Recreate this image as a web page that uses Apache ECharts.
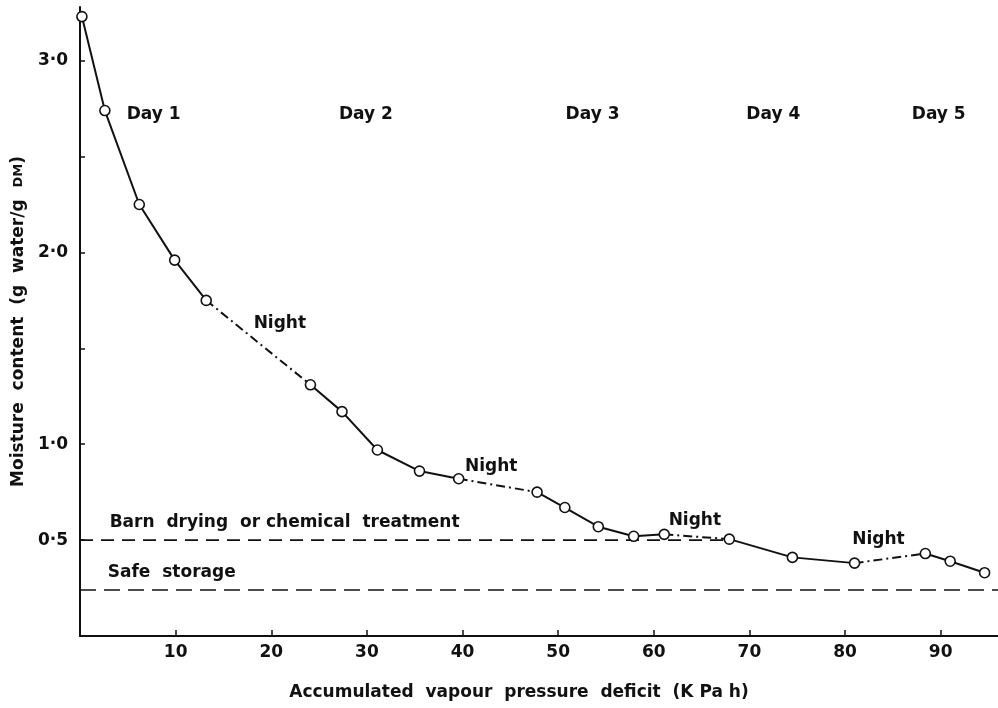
<!DOCTYPE html>
<html>
<head>
<meta charset="utf-8">
<script src="https://cdn.jsdelivr.net/npm/echarts@6/dist/echarts.min.js"></script>
<style>
  html, body { margin: 0; padding: 0; background: #fff; }
  #chart { width: 998px; height: 708px; }
</style>
</head>
<body>
<div id="chart"></div>
<script>
// ---- data ----
const vpd = [0.2, 2.6, 6.2, 9.9, 13.2, 24.1, 27.4, 31.1, 35.5, 39.6, 47.8, 50.7, 54.2, 57.9, 61.1, 67.9, 74.5, 81.0, 88.4, 91.0, 94.6];
const moisture = [3.23, 2.74, 2.25, 1.96, 1.75, 1.31, 1.17, 0.97, 0.86, 0.82, 0.75, 0.67, 0.57, 0.52, 0.53, 0.505, 0.41, 0.38, 0.43, 0.39, 0.33];
// index of the point where each night (dash-dot) segment begins
const nightStarts = [4, 9, 14, 17];

const barnLevel = 0.5;
const barnRange = [0, 68];
const safeLevel = 0.24;
const safeRange = [0, 96];

const xTicks = [10, 20, 30, 40, 50, 60, 70, 80, 90];
const yTicks = [0.5, 1.0, 1.5, 2.0, 2.5, 3.0];
const yLabels = [0.5, 1.0, 2.0, 3.0];

const dayNames = ['Day 1', 'Day 2', 'Day 3', 'Day 4', 'Day 5'];
const dayX = [7.7, 29.9, 53.6, 72.5, 89.8];
const dayY = 2.72;
const nightX = [20.9, 43.0, 64.3, 83.5];
const nightY = [1.63, 0.885, 0.60, 0.505];
const barnText = 'Barn  drying  or chemical  treatment';
const barnTextPos = [3.1, 0.59];
const safeText = 'Safe  storage';
const safeTextPos = [2.9, 0.33];

// ---- build series data ----
const pts = vpd.map((x, i) => [x, moisture[i]]);
const solidData = [];
const nightData = [];
pts.forEach((p, i) => {
  if (i > 0 && nightStarts.indexOf(i - 1) >= 0) solidData.push('-');
  solidData.push(p);
});
nightStarts.forEach(k => {
  nightData.push(pts[k], pts[k + 1], '-');
});

const FONT = 'DejaVu Sans';
const FS = 17;
const FW = 'bold';
const INK = '#111';
const fmt = v => v.toFixed(1).replace('.', '\u00b7');

const annotations = [];
dayNames.forEach((n, i) => annotations.push({ name: n, value: [dayX[i], dayY] }));
nightX.forEach((x, i) => annotations.push({ name: 'Night', value: [x, nightY[i]] }));
annotations.push({ name: barnText, value: barnTextPos, label: { align: 'left' } });
annotations.push({ name: safeText, value: safeTextPos, label: { align: 'left' } });

const chart = echarts.init(document.getElementById('chart'));
chart.setOption({
  animation: false,
  backgroundColor: '#fff',
  textStyle: { fontFamily: FONT, color: INK, fontWeight: FW },
  grid: { left: 80, right: 0, top: 7, bottom: 72, containLabel: false, outerBoundsMode: 'none' },
  xAxis: {
    type: 'value', min: 0, max: 96,
    name: 'Accumulated  vapour  pressure  deficit  (K Pa h)',
    nameLocation: 'middle', nameGap: 48,
    nameTextStyle: { fontFamily: FONT, fontSize: FS, fontWeight: FW, color: INK, padding: [0, 40, 0, 0] },
    axisLine: { show: true, lineStyle: { color: INK, width: 2 } },
    axisTick: { show: true, inside: true, length: 6, customValues: xTicks, lineStyle: { color: INK, width: 1.5 } },
    axisLabel: { customValues: xTicks, margin: 8, fontFamily: FONT, fontSize: FS, fontWeight: FW, color: INK },
    splitLine: { show: false }
  },
  yAxis: {
    type: 'value', min: 0, max: 3.28,
    name: 'Moisture  content  (g  water/g  {s|DM})',
    nameLocation: 'middle', nameGap: 47, nameRotate: 90,
    nameTextStyle: { fontFamily: FONT, fontSize: FS, fontWeight: FW, color: INK,
      rich: { s: { fontFamily: FONT, fontSize: 13, fontWeight: FW, color: INK } } },
    axisLine: { show: true, lineStyle: { color: INK, width: 2 } },
    axisTick: { show: true, inside: true, length: 5, customValues: yTicks, lineStyle: { color: INK, width: 1.5 } },
    axisLabel: { customValues: yLabels, margin: 12, fontFamily: FONT, fontSize: FS, fontWeight: FW, color: INK, formatter: fmt },
    splitLine: { show: false }
  },
  series: [
    {
      type: 'line', data: [[barnRange[0], barnLevel], [barnRange[1], barnLevel]],
      symbol: 'none', silent: true, clip: false,
      lineStyle: { color: INK, width: 1.6, type: [13, 8] }, z: 1
    },
    {
      type: 'line', data: [[safeRange[0], safeLevel], [safeRange[1], safeLevel]],
      symbol: 'none', silent: true, clip: false,
      lineStyle: { color: INK, width: 1.6, type: [16, 8] }, z: 1
    },
    {
      type: 'line', data: solidData, symbol: 'none', connectNulls: false, silent: true,
      lineStyle: { color: INK, width: 2 }, z: 2
    },
    {
      type: 'line', data: nightData, symbol: 'none', connectNulls: false, silent: true,
      lineStyle: { color: INK, width: 2, type: [9, 4, 2, 4] }, z: 2
    },
    {
      type: 'scatter', data: pts, symbol: 'circle', symbolSize: 10, silent: true,
      itemStyle: { color: '#fff', borderColor: INK, borderWidth: 1.6, opacity: 1 }, z: 3
    },
    {
      type: 'scatter', data: annotations, symbolSize: 0, silent: true, z: 4,
      itemStyle: { opacity: 1 },
      label: { show: true, position: 'inside', formatter: p => p.name,
        fontFamily: FONT, fontSize: FS, fontWeight: FW, color: INK, align: 'center', verticalAlign: 'middle' }
    }
  ]
});
</script>
</body>
</html>
